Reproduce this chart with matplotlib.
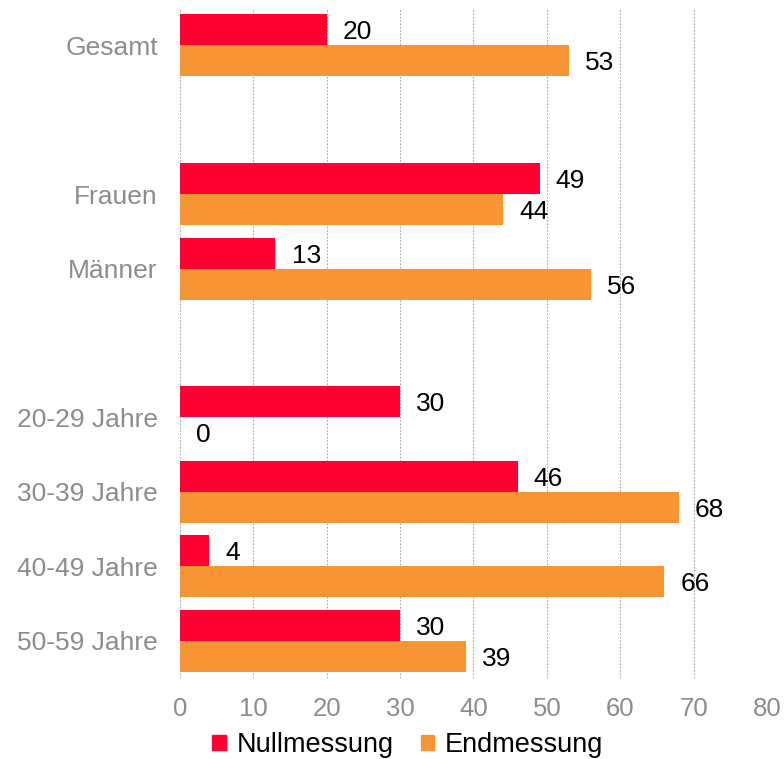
import numpy as np
import matplotlib
matplotlib.use("Agg")
import matplotlib.pyplot as plt
from matplotlib.patches import Patch

plt.rcParams['font.family'] = ['Liberation Sans', 'DejaVu Sans']

# categories (None = empty spacer row between groups)
categories = ["Gesamt", None, "Frauen", "Männer", None,
              "20-29 Jahre", "30-39 Jahre", "40-49 Jahre", "50-59 Jahre"]
nullmessung = [20, None, 49, 13, None, 30, 46, 4, 30]
endmessung = [53, None, 44, 56, None, 0, 68, 66, 39]
x_ticks = [0, 10, 20, 30, 40, 50, 60, 70, 80]

RED = "#FF0033"
ORANGE = "#F79433"
GREY = "#8C8C8C"

fig = plt.figure(figsize=(7.84, 7.59), dpi=100)
ax = fig.add_axes([0.2296, 0.1067, 0.7487, 0.8828])

h = 0.416
for i, (cat, a, b) in enumerate(zip(categories, nullmessung, endmessung)):
    if cat is None:
        continue
    ax.barh(i - h / 2, a, height=h, color=RED, zorder=2)
    ax.barh(i + h / 2, b, height=h, color=ORANGE, zorder=2)
    ax.text(a + 2.2, i - h / 2, str(a), va="center_baseline", ha="left", fontsize=19, color="black")
    ax.text(b + 2.2, i + h / 2, str(b), va="center_baseline", ha="left", fontsize=19, color="black")

ypos = [i for i, c in enumerate(categories) if c is not None]
ax.set_yticks(ypos)
ax.set_yticklabels([c for c in categories if c is not None], fontsize=19, color=GREY)
ax.set_ylim(8.5, -0.5)
ax.set_xlim(0, 80)
ax.set_xticks(x_ticks)
ax.set_xticklabels([str(t) for t in x_ticks], fontsize=18.5, color=GREY)
ax.tick_params(axis="y", length=0, pad=16)
ax.tick_params(axis="x", length=0, pad=14)

ax.xaxis.grid(True, color="#A6A6A6", linestyle=(0, (1.5, 1.5)), linewidth=0.8, zorder=0)
ax.set_axisbelow(True)
for s in ax.spines.values():
    s.set_visible(False)

handles = [Patch(color=RED, label="Nullmessung"), Patch(color=ORANGE, label="Endmessung")]
fig.legend(handles=handles, loc="center", bbox_to_anchor=(0.52, 0.018), ncol=2,
           frameon=False, fontsize=19.5, handlelength=0.5, handleheight=0.5,
           handletextpad=0.4, columnspacing=1.0)

fig.savefig("out.png", dpi=100)
